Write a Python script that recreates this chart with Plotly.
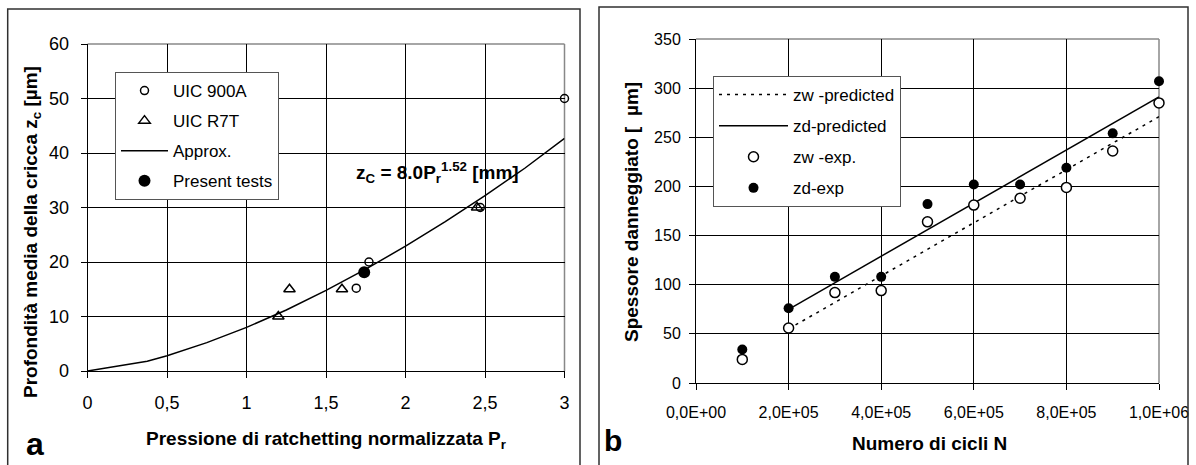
import plotly.graph_objects as go

W, H = 1196, 465

# ---- panel a data ----
uic900_x = [3.0, 1.77, 1.69, 2.47]
uic900_y = [50.0, 20.0, 15.2, 30.0]
r7t_x = [1.20, 1.27, 1.60, 2.45]
r7t_y = [10.0, 15.0, 15.0, 30.0]
approx_x = [0, 0.375, 0.5, 0.75, 1.0, 1.25, 1.5, 1.75, 2.0, 2.25, 2.5, 2.75, 3.0]
approx_y = [0, 1.8, 2.8, 5.2, 8.0, 11.2, 14.8, 18.7, 22.9, 27.4, 32.2, 37.2, 42.7]
present_x = [1.74]
present_y = [18.1]

# ---- panel b data ----
cycles = [1e5, 2e5, 3e5, 4e5, 5e5, 6e5, 7e5, 8e5, 9e5, 1e6]
zw_exp = [24, 56, 92, 94, 164, 181, 188, 199, 236, 285]
zd_exp = [34, 76, 108, 108, 182, 202, 202, 219, 254, 307]
pred_x = [2e5, 1e6]
zw_pred = [55, 271]
zd_pred = [75, 291]
b_tickvals = [0, 2e5, 4e5, 6e5, 8e5, 1e6]
b_ticktext = ["0,0E+00", "2,0E+05", "4,0E+05", "6,0E+05", "8,0E+05", "1,0E+06"]

FONT = "Liberation Sans, Arial, sans-serif"

def px(x):
    return x / W

def py(y):
    return 1 - y / H

fig = go.Figure()

# panel a traces
fig.add_trace(go.Scatter(x=uic900_x, y=uic900_y, mode="markers", name="UIC 900A",
                         marker=dict(symbol="circle-open", size=8, color="black", line=dict(width=1.5)),
                         xaxis="x", yaxis="y", legend="legend", legendgroup="a1", cliponaxis=False))
fig.add_trace(go.Scatter(x=r7t_x, y=r7t_y, mode="markers", name="UIC R7T",
                         marker=dict(symbol="triangle-up-open", size=10, color="black", line=dict(width=1.5)),
                         xaxis="x", yaxis="y", legend="legend", legendgroup="a2", cliponaxis=False))
fig.add_trace(go.Scatter(x=approx_x, y=approx_y, mode="lines", name="Approx.",
                         line=dict(color="black", width=1.5),
                         xaxis="x", yaxis="y", legend="legend", legendgroup="a3"))
fig.add_trace(go.Scatter(x=present_x, y=present_y, mode="markers", name="Present tests",
                         marker=dict(symbol="circle", size=12, color="black"),
                         xaxis="x", yaxis="y", legend="legend", legendgroup="a4", cliponaxis=False))

# panel b traces
fig.add_trace(go.Scatter(x=pred_x, y=zw_pred, mode="lines", name="zw -predicted",
                         line=dict(color="black", width=1.5, dash="3px,5px"),
                         xaxis="x2", yaxis="y2", legend="legend2", legendgroup="b1"))
fig.add_trace(go.Scatter(x=pred_x, y=zd_pred, mode="lines", name="zd-predicted",
                         line=dict(color="black", width=1.5),
                         xaxis="x2", yaxis="y2", legend="legend2", legendgroup="b2"))
fig.add_trace(go.Scatter(x=cycles, y=zw_exp, mode="markers", name="zw -exp.",
                         marker=dict(symbol="circle", size=10, color="white", line=dict(color="black", width=1.5)),
                         xaxis="x2", yaxis="y2", legend="legend2", legendgroup="b3", cliponaxis=False))
fig.add_trace(go.Scatter(x=cycles, y=zd_exp, mode="markers", name="zd-exp",
                         marker=dict(symbol="circle", size=10, color="black"),
                         xaxis="x2", yaxis="y2", legend="legend2", legendgroup="b4", cliponaxis=False))

axis_common = dict(showgrid=True, gridcolor="black", gridwidth=1, showline=True, linecolor="black",
                   linewidth=1, ticks="outside", ticklen=6, tickcolor="black", zeroline=False,
                   color="black", automargin=False)

fig.update_layout(
    width=W, height=H,
    margin=dict(l=0, r=0, t=0, b=0, autoexpand=False),
    paper_bgcolor="white", plot_bgcolor="white",
    separators=",.",
    font=dict(family=FONT, color="black"),
    xaxis=dict(domain=[px(87.6), px(564.5)], range=[0, 3], dtick=0.5, tick0=0, anchor="y",
               tickfont=dict(size=18), ticklabelstandoff=9, **axis_common),
    yaxis=dict(domain=[py(371), py(44)], range=[0, 60], dtick=10, anchor="x",
               tickfont=dict(size=18), ticklabelstandoff=8, **axis_common),
    xaxis2=dict(domain=[px(696), px(1159)], range=[0, 1e6], tickvals=b_tickvals, ticktext=b_ticktext,
                anchor="y2", tickfont=dict(size=16), ticklabelstandoff=9, **axis_common),
    yaxis2=dict(domain=[py(383), py(39)], range=[0, 350], dtick=50, anchor="x2",
                tickfont=dict(size=16), ticklabelstandoff=5, **axis_common),
    legend=dict(x=px(115), y=py(72), xanchor="left", yanchor="top", bgcolor="white",
                bordercolor="#555555", borderwidth=1, font=dict(size=17), tracegroupgap=5,
                traceorder="grouped", itemwidth=47),
    legend2=dict(x=px(713), y=py(76), xanchor="left", yanchor="top", bgcolor="white",
                 bordercolor="#555555", borderwidth=1, font=dict(size=17), tracegroupgap=6,
                 traceorder="grouped", itemwidth=69),
    showlegend=True,
)

shapes = [
    # outer panel frames
    dict(type="rect", xref="paper", yref="paper", x0=px(7.7), x1=px(580), y0=-0.2, y1=py(9),
         line=dict(color="#303030", width=1.5)),
    dict(type="rect", xref="paper", yref="paper", x0=px(599), x1=px(1188), y0=-0.2, y1=py(7),
         line=dict(color="#303030", width=1.5)),
]
for xr, yr in (("x", "y"), ("x2", "y2")):
    shapes.append(dict(type="line", xref=f"{xr} domain", yref=f"{yr} domain", x0=0, x1=1, y0=1, y1=1,
                       line=dict(color="#888888", width=1.5), layer="below"))
    shapes.append(dict(type="line", xref=f"{xr} domain", yref=f"{yr} domain", x0=1, x1=1, y0=0, y1=1,
                       line=dict(color="#888888", width=1.5), layer="below"))
fig.update_layout(shapes=shapes)

ann = [
    dict(text="<b>Profondità media della cricca z<sub>c</sub> [µm]</b>", x=px(32), y=py(232),
         textangle=-90, font=dict(size=19)),
    dict(text="<b>Pressione di ratchetting normalizzata P<sub>r</sub></b>", x=px(326), y=py(440),
         font=dict(size=19)),
    dict(text="<b>Spessore danneggiato [  µm]</b>", x=px(631), y=py(212), textangle=-90,
         font=dict(size=19)),
    dict(text="<b>Numero di cicli N</b>", x=px(929), y=py(443), font=dict(size=19)),
    dict(text="<b>a</b>", x=px(35), y=py(444), font=dict(size=32)),
    dict(text="<b>b</b>", x=px(613), y=py(440), font=dict(size=30)),
    dict(text="<b>z<sub>C</sub> = 8.0P<sub>r</sub><sup>1.52</sup> [mm]</b>", x=px(437), y=py(172),
         font=dict(size=19)),
]
for a in ann:
    a.update(xref="paper", yref="paper", showarrow=False, xanchor="center", yanchor="middle")
fig.update_layout(annotations=ann)

fig.write_html("out.html", config={"displayModeBar": False},
               post_script="document.body.style.margin='0';document.body.style.overflow='hidden';")
